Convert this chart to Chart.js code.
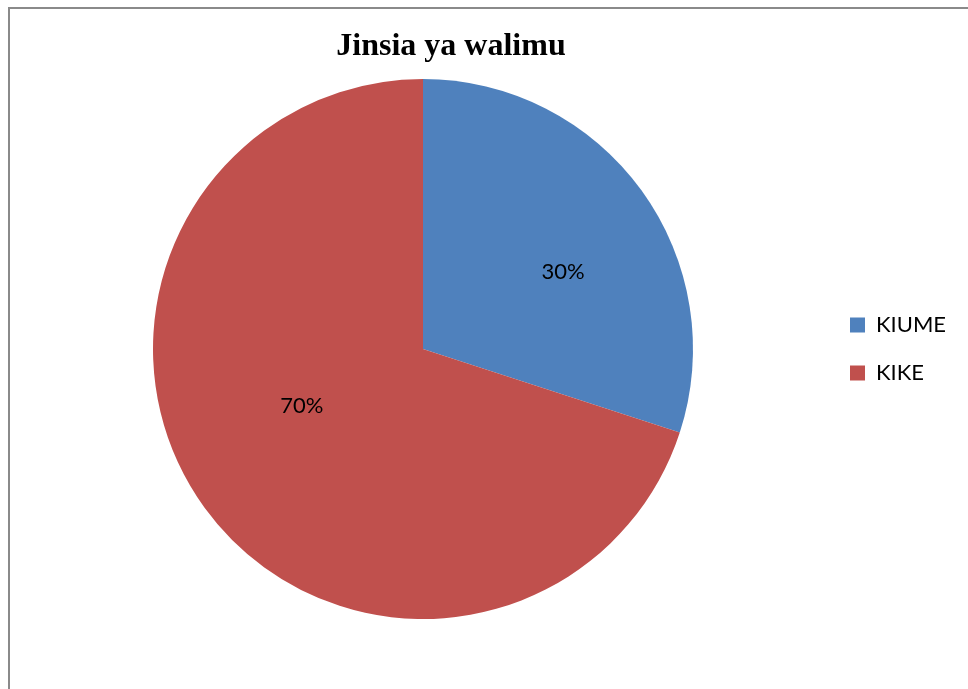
<!DOCTYPE html>
<html>
<head>
<meta charset="utf-8">
<script src="https://cdn.jsdelivr.net/npm/chart.js@4.4.1/dist/chart.umd.min.js"></script>
<style>
  html, body { margin: 0; padding: 0; background: #fff; }
  #wrap { position: relative; width: 968px; height: 689px; overflow: hidden; }
  #frame { position: absolute; left: 8px; top: 7px; right: -4px; bottom: -4px;
           border-left: 2px solid #8a8a8a; border-top: 2px solid #8a8a8a; }
  #title { position: absolute; left: 0; top: 26px; width: 902px; text-align: center;
           font: bold 32px "Liberation Serif", "Times New Roman", serif; line-height: 36px; color: #000; }
  #chart { position: absolute; left: 0; top: 0; }
</style>
</head>
<body>
<div id="wrap">
  <div id="frame"></div>
  <canvas id="chart" width="968" height="689"></canvas>
  <div id="title">Jinsia ya walimu</div>
</div>
<script>
const categories = ['KIUME', 'KIKE'];
const values = [30, 70];
const colors = ['#4F81BD', '#C0504D'];

const LABEL_FONT = '22px Lato';
const LEGEND_PAD = 26;

// legend box starts at x=850, so chart area ends at 850 - pad; size right padding from text width
const mctx = document.createElement('canvas').getContext('2d');
mctx.font = LABEL_FONT;
const legendW = LEGEND_PAD + 15 + 11 + Math.max(...categories.map(c => mctx.measureText(c).width));
const padRight = 968 - (850 - LEGEND_PAD) - legendW - 10;

// percent labels inside slices
const sliceLabels = {
  id: 'sliceLabels',
  afterDatasetsDraw(chart, args, opts) {
    const ctx = chart.ctx;
    const total = values.reduce((a, b) => a + b, 0);
    chart.getDatasetMeta(0).data.forEach((arc, i) => {
      const p = arc.getProps(['x', 'y', 'startAngle', 'endAngle', 'outerRadius'], true);
      const a = (p.startAngle + p.endAngle) / 2 + opts.shift[i];
      const r = p.outerRadius * opts.dist[i];
      ctx.save();
      ctx.font = LABEL_FONT;
      ctx.fillStyle = '#000';
      ctx.textAlign = 'center';
      ctx.textBaseline = 'middle';
      ctx.fillText(Math.round(values[i] / total * 100) + '%', p.x + Math.cos(a) * r, p.y + Math.sin(a) * r);
      ctx.restore();
    });
  }
};

new Chart(document.getElementById('chart'), {
  type: 'pie',
  data: {
    labels: categories,
    datasets: [{ data: values, backgroundColor: colors, borderWidth: 0 }]
  },
  options: {
    responsive: false, animation: false,
    layout: { padding: { top: 79, bottom: 70, left: 22, right: padRight } },
    plugins: {
      title: { display: false },
      tooltip: { enabled: false },
      legend: {
        position: 'right',
        labels: { boxWidth: 15, boxHeight: 15, padding: LEGEND_PAD, color: '#000',
                  font: { family: 'Lato', size: 22 } }
      },
      sliceLabels: { shift: [0.126, 0.188], dist: [0.592, 0.496] }
    }
  },
  plugins: [sliceLabels]
});
</script>
</body>
</html>
